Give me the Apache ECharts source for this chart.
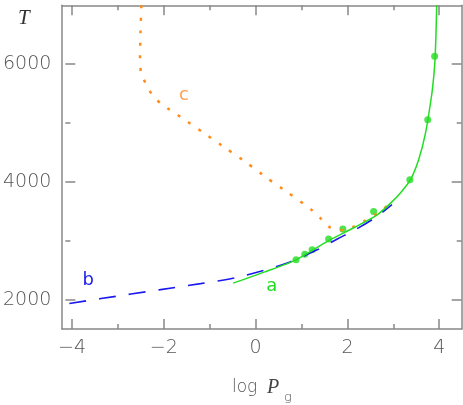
<!DOCTYPE html>
<html>
<head>
<meta charset="utf-8">
<script src="https://cdn.jsdelivr.net/npm/echarts@6/dist/echarts.min.js"></script>
<style>
  html, body { margin: 0; padding: 0; background: #fff; }
  #chart { width: 463px; height: 405px; }
</style>
</head>
<body>
<div id="chart"></div>
<script>
// curve a (solid green)
var aLogP = [-0.49, 0.2, 0.89, 1.59, 2.14, 2.64, 2.94, 3.15, 3.37, 3.55, 3.70, 3.83, 3.88, 3.91, 3.93, 3.945];
var aT = [2280, 2470, 2680, 3000, 3220, 3435, 3639, 3808, 4034, 4373, 4825, 5446, 5785, 6100, 6520, 7000];
// green dots
var dotLogP = [0.88, 1.07, 1.23, 1.59, 1.90, 2.57, 3.36, 3.75, 3.90];
var dotT = [2678, 2768, 2847, 3028, 3198, 3497, 4034, 5056, 6136];
// curve b (blue dashed)
var bLogP = [-4.06, -3.37, -2.07, -1.2, -0.47, 0.18, 0.69, 1.34, 1.78, 2.2, 2.6, 2.97];
var bT = [1932, 2017, 2169, 2271, 2367, 2497, 2621, 2845, 3030, 3200, 3390, 3615];
// curve c (orange dotted)
var cLogP = [-2.49, -2.51, -2.52, -2.50, -2.39, -2.25, -2.07, -1.81, -1.59, -1.12, -0.65, -0.18, 0.25, 0.72, 1.20, 1.41, 1.63, 1.88, 2.14, 2.39, 2.64, 2.95];
var cT = [7000, 6547, 6097, 5870, 5661, 5475, 5333, 5192, 5079, 4825, 4571, 4317, 4063, 3808, 3537, 3384, 3220, 3180, 3240, 3344, 3458, 3640];
// axis ranges and ticks
var xRange = [-4.22, 4.49];
var yRange = [1500, 7000];
var xMajor = [-4, 4, 2];   // first, last, step
var yMajor = [2000, 6000, 2000];

function pairs(xs, ys) {
  return xs.map(function (x, i) { return [x, ys[i]]; });
}

var W = 463, H = 405;
var axisColor = '#888';
var lineSt = { color: axisColor, width: 1.5 };
var labelFont = { fontSize: 19, color: '#555', fontFamily: 'DejaVu Sans', fontWeight: 200 };
var mainGrid = { left: 62, right: 1.3, top: 5.3, bottom: 76 };

// frame axes carry the data scale, no ticks
function frameAx(pos, range, idx) {
  return {
    type: 'value', position: pos, min: range[0], max: range[1], gridIndex: idx,
    splitLine: { show: false },
    axisLine: { show: true, onZero: false, lineStyle: lineSt },
    axisTick: { show: false }, axisLabel: { show: false }
  };
}
// tick axes: their grid starts at the first labelled value so interval works
function tickAx(pos, ticks, grid, labels, margin, fmt) {
  return {
    type: 'value', position: pos, min: ticks[0], max: ticks[1], interval: ticks[2], gridIndex: grid,
    splitLine: { show: false },
    axisLine: { show: false, onZero: false },
    axisTick: { show: true, inside: true, length: 10, lineStyle: lineSt },
    minorTick: { show: true, splitNumber: 2, length: 5, lineStyle: lineSt },
    axisLabel: Object.assign({ show: labels, margin: margin, formatter: fmt }, labelFont)
  };
}
function hidden(grid, range) {
  return { type: 'value', show: false, gridIndex: grid, min: range[0], max: range[1] };
}

var series = [
  {
    type: 'line', data: pairs(bLogP, bT), showSymbol: false, smooth: 0.3,
    lineStyle: { color: '#1a1aee', width: 1.6, type: [17, 13] }
  },
  {
    type: 'line', data: pairs(cLogP, cT), showSymbol: false, smooth: 0.2,
    lineStyle: { color: '#ff8c1a', width: 2.5, type: [3, 9.5] }
  },
  {
    type: 'line', data: pairs(aLogP, aT), showSymbol: false, smooth: 0.25,
    lineStyle: { color: '#22dd22', width: 1.5 }
  },
  {
    type: 'scatter', data: pairs(dotLogP, dotT), symbolSize: 7,
    itemStyle: { color: '#22dd22' }
  }
];

var graphic = [
  { type: 'text', left: 18, top: 8, style: { text: 'T', fontSize: 21, fontStyle: 'italic', fontFamily: 'Liberation Serif', fill: '#333' } },
  { type: 'text', x: 232, y: 379, style: { text: 'log', fontSize: 17, fontFamily: 'DejaVu Sans', fontWeight: 200, fill: '#555' } },
  { type: 'text', x: 267, y: 378, style: { text: 'P', fontSize: 20, fontStyle: 'italic', fontFamily: 'Liberation Serif', fill: '#444' } },
  { type: 'text', x: 284, y: 391, style: { text: 'g', fontSize: 13, fontFamily: 'DejaVu Sans', fontWeight: 200, fill: '#555' } },
  { type: 'text', x: 271.7, y: 286, style: { text: 'a', fontSize: 18, fontFamily: 'DejaVu Sans', fill: '#22dd22', align: 'center', verticalAlign: 'middle' } },
  { type: 'text', x: 88.3, y: 280, style: { text: 'b', fontSize: 18, fontFamily: 'DejaVu Sans', fill: '#1a1aee', align: 'center', verticalAlign: 'middle' } },
  { type: 'text', x: 184, y: 95, style: { text: 'c', fontSize: 18, fontFamily: 'DejaVu Sans', fill: '#ffa050', align: 'center', verticalAlign: 'middle' } }
];

var chart = echarts.init(document.getElementById('chart'));
chart.setOption({
  animation: false,
  grid: [mainGrid],
  xAxis: [frameAx('bottom', xRange, 0)],
  yAxis: [frameAx('left', yRange, 0)]
});
// where the first/last labelled ticks fall on the data scale
var px0 = chart.convertToPixel({ xAxisIndex: 0 }, xMajor[0]);
var px1 = chart.convertToPixel({ xAxisIndex: 0 }, xMajor[1]);
var py0 = chart.convertToPixel({ yAxisIndex: 0 }, yMajor[0]);
var py1 = chart.convertToPixel({ yAxisIndex: 0 }, yMajor[1]);

var minusFmt = function (v) { return v < 0 ? '\u2212' + (-v) : '' + v; };

chart.setOption({
  animation: false,
  grid: [
    mainGrid,
    { left: px0, right: W - px1, top: mainGrid.top, bottom: mainGrid.bottom },
    { left: mainGrid.left, right: mainGrid.right, top: py1, bottom: H - py0 }
  ],
  xAxis: [
    frameAx('bottom', xRange, 0),
    frameAx('top', xRange, 0),
    tickAx('bottom', xMajor, 1, true, 10, minusFmt),
    tickAx('top', xMajor, 1, false, 10, minusFmt),
    hidden(2, xRange)
  ],
  yAxis: [
    frameAx('left', yRange, 0),
    frameAx('right', yRange, 0),
    hidden(1, yRange),
    tickAx('left', yMajor, 2, true, 14, function (v) { return '' + v; }),
    tickAx('right', yMajor, 2, false, 14, function (v) { return '' + v; })
  ],
  graphic: graphic,
  series: series
}, true);
</script>
</body>
</html>
